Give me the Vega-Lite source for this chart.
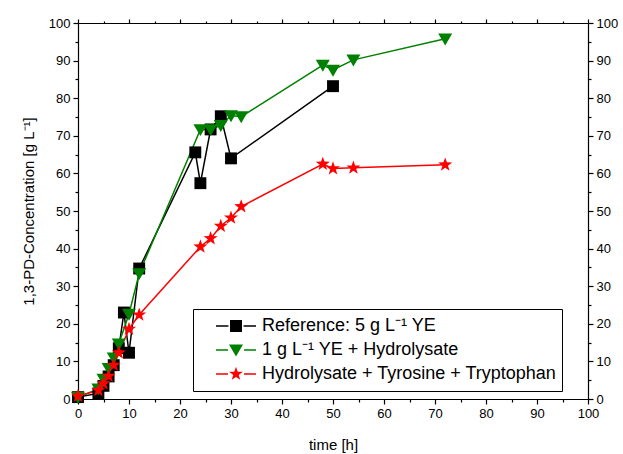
{
  "$schema": "https://vega.github.io/schema/vega-lite/v6.json",
  "width": 510,
  "height": 376,
  "autosize": {"type": "none"},
  "padding": {"left": 78, "top": 23, "right": 35, "bottom": 55},
  "background": "white",
  "config": {
    "font": "Liberation Sans",
    "view": {"stroke": null},
    "axis": {"grid": false, "domainColor": "black", "tickColor": "black", "labelColor": "black", "titleColor": "black", "labelFontSize": 13, "titleFontSize": 15, "titleFontWeight": "normal", "domainWidth": 1.2, "tickWidth": 1.2}
  },
  "data": {
    "values": [
      {"series": "Reference: 5 g L⁻¹ YE", "time": 0, "conc": 0.5},
      {"series": "Reference: 5 g L⁻¹ YE", "time": 4, "conc": 1.5},
      {"series": "Reference: 5 g L⁻¹ YE", "time": 5, "conc": 3.5},
      {"series": "Reference: 5 g L⁻¹ YE", "time": 6, "conc": 6},
      {"series": "Reference: 5 g L⁻¹ YE", "time": 7, "conc": 9},
      {"series": "Reference: 5 g L⁻¹ YE", "time": 8, "conc": 13.5},
      {"series": "Reference: 5 g L⁻¹ YE", "time": 9, "conc": 23},
      {"series": "Reference: 5 g L⁻¹ YE", "time": 10, "conc": 12.3},
      {"series": "Reference: 5 g L⁻¹ YE", "time": 12, "conc": 34.7},
      {"series": "Reference: 5 g L⁻¹ YE", "time": 23, "conc": 65.6},
      {"series": "Reference: 5 g L⁻¹ YE", "time": 24, "conc": 57.4},
      {"series": "Reference: 5 g L⁻¹ YE", "time": 26, "conc": 71.7},
      {"series": "Reference: 5 g L⁻¹ YE", "time": 28, "conc": 75.2},
      {"series": "Reference: 5 g L⁻¹ YE", "time": 30, "conc": 64},
      {"series": "Reference: 5 g L⁻¹ YE", "time": 50, "conc": 83.2},
      {"series": "1 g L⁻¹ YE + Hydrolysate", "time": 0, "conc": 0.5},
      {"series": "1 g L⁻¹ YE + Hydrolysate", "time": 4, "conc": 2.7},
      {"series": "1 g L⁻¹ YE + Hydrolysate", "time": 5, "conc": 5.3},
      {"series": "1 g L⁻¹ YE + Hydrolysate", "time": 6, "conc": 8.2},
      {"series": "1 g L⁻¹ YE + Hydrolysate", "time": 7, "conc": 11},
      {"series": "1 g L⁻¹ YE + Hydrolysate", "time": 8, "conc": 14.7},
      {"series": "1 g L⁻¹ YE + Hydrolysate", "time": 10, "conc": 22.6},
      {"series": "1 g L⁻¹ YE + Hydrolysate", "time": 12, "conc": 33.4},
      {"series": "1 g L⁻¹ YE + Hydrolysate", "time": 24, "conc": 71.7},
      {"series": "1 g L⁻¹ YE + Hydrolysate", "time": 26, "conc": 71.7},
      {"series": "1 g L⁻¹ YE + Hydrolysate", "time": 28, "conc": 72.8},
      {"series": "1 g L⁻¹ YE + Hydrolysate", "time": 30, "conc": 75.4},
      {"series": "1 g L⁻¹ YE + Hydrolysate", "time": 32, "conc": 75.1},
      {"series": "1 g L⁻¹ YE + Hydrolysate", "time": 48, "conc": 88.8},
      {"series": "1 g L⁻¹ YE + Hydrolysate", "time": 50, "conc": 87.5},
      {"series": "1 g L⁻¹ YE + Hydrolysate", "time": 54, "conc": 90.2},
      {"series": "1 g L⁻¹ YE + Hydrolysate", "time": 72, "conc": 95.8},
      {"series": "Hydrolysate + Tyrosine + Tryptophan", "time": 0, "conc": 0.8},
      {"series": "Hydrolysate + Tyrosine + Tryptophan", "time": 4, "conc": 2.3},
      {"series": "Hydrolysate + Tyrosine + Tryptophan", "time": 5, "conc": 4.1},
      {"series": "Hydrolysate + Tyrosine + Tryptophan", "time": 6, "conc": 6.1},
      {"series": "Hydrolysate + Tyrosine + Tryptophan", "time": 7, "conc": 9},
      {"series": "Hydrolysate + Tyrosine + Tryptophan", "time": 8, "conc": 12.3},
      {"series": "Hydrolysate + Tyrosine + Tryptophan", "time": 10, "conc": 18.6},
      {"series": "Hydrolysate + Tyrosine + Tryptophan", "time": 12, "conc": 22.4},
      {"series": "Hydrolysate + Tyrosine + Tryptophan", "time": 24, "conc": 40.5},
      {"series": "Hydrolysate + Tyrosine + Tryptophan", "time": 26, "conc": 42.7},
      {"series": "Hydrolysate + Tyrosine + Tryptophan", "time": 28, "conc": 46},
      {"series": "Hydrolysate + Tyrosine + Tryptophan", "time": 30, "conc": 48.2},
      {"series": "Hydrolysate + Tyrosine + Tryptophan", "time": 32, "conc": 51.2},
      {"series": "Hydrolysate + Tyrosine + Tryptophan", "time": 48, "conc": 62.5},
      {"series": "Hydrolysate + Tyrosine + Tryptophan", "time": 50, "conc": 61.3},
      {"series": "Hydrolysate + Tyrosine + Tryptophan", "time": 54, "conc": 61.5},
      {"series": "Hydrolysate + Tyrosine + Tryptophan", "time": 72, "conc": 62.3}
    ]
  },
  "layer": [
    {
      "encoding": {
        "x": {
          "field": "time", "type": "quantitative",
          "scale": {"domain": [0, 100], "nice": false, "zero": false},
          "axis": {
            "orient": "bottom", "title": "time [h]", "titlePadding": 17,
            "values": [0,5,10,15,20,25,30,35,40,45,50,55,60,65,70,75,80,85,90,95,100],
            "labelExpr": "datum.value % 10 == 0 ? datum.label : ''",
            "tickSize": {"condition": {"test": "datum.value % 10 == 0", "value": 5}, "value": 3},
            "labelPadding": 3, "labelFlush": false, "labelOverlap": false
          }
        },
        "y": {
          "field": "conc", "type": "quantitative",
          "scale": {"domain": [0, 100], "nice": false},
          "axis": {
            "orient": "left", "title": "1,3-PD-Concentration [g L⁻¹]", "titlePadding": 12,
            "values": [0,5,10,15,20,25,30,35,40,45,50,55,60,65,70,75,80,85,90,95,100],
            "labelExpr": "datum.value % 10 == 0 ? datum.label : ''",
            "tickSize": {"condition": {"test": "datum.value % 10 == 0", "value": 5}, "value": 3},
            "labelPadding": 3, "labelFlush": false, "labelOverlap": false
          }
        },
        "color": {
          "field": "series", "type": "nominal",
          "scale": {"domain": ["Reference: 5 g L⁻¹ YE", "1 g L⁻¹ YE + Hydrolysate", "Hydrolysate + Tyrosine + Tryptophan"], "range": ["#000000", "#008000", "#ff0000"]},
          "legend": {
            "title": null, "orient": "none", "legendX": 115, "legendY": 286,
            "labelFontSize": 18, "labelColor": "black", "labelLimit": 400,
            "symbolSize": 1600, "symbolOffset": 18, "labelOffset": 6,
            "padding": 5, "rowPadding": 0, "clipHeight": 24,
            "strokeColor": "black", "fillColor": "white",
            "encode": {
              "symbols": {
                "update": {
                  "shape": {"signal": "indexof(datum.value, 'Reference') == 0 ? 'M-1,-0.04H-0.38V0.04H-1Z M0.38,-0.04H1V0.04H0.38Z M-0.3,-0.3H0.3V0.3H-0.3Z' : indexof(datum.value, '1 g') == 0 ? 'M-1,-0.04H-0.4V0.04H-1Z M0.4,-0.04H1V0.04H0.4Z M-0.35,-0.28H0.35L0,0.32Z' : 'M-1,-0.04H-0.4V0.04H-1Z M0.4,-0.04H1V0.04H0.4Z M0,-0.36L0.085,-0.117L0.342,-0.111L0.137,0.045L0.212,0.291L0,0.144L-0.212,0.291L-0.137,0.045L-0.342,-0.111L-0.085,-0.117Z'"},
                  "fill": {"signal": "indexof(datum.value, 'Reference') == 0 ? '#000000' : indexof(datum.value, '1 g') == 0 ? '#008000' : '#ff0000'"},
                  "stroke": {"value": "transparent"},
                  "strokeWidth": {"value": 0},
                  "opacity": {"value": 1},
                  "fillOpacity": {"value": 1}
                }
              }
            }
          }
        }
      },
      "layer": [
        {"mark": {"type": "line", "strokeWidth": 1.5}, "encoding": {"order": {"field": "time", "type": "quantitative"}}},
        {
          "transform": [{"filter": "datum.series == 'Reference: 5 g L⁻¹ YE'"}],
          "mark": {"type": "point", "filled": true, "size": 196, "opacity": 1, "strokeWidth": 0, "shape": "M-0.85,-0.85H0.85V0.85H-0.85Z"}
        },
        {
          "transform": [{"filter": "datum.series == '1 g L⁻¹ YE + Hydrolysate'"}],
          "mark": {"type": "point", "filled": true, "size": 196, "opacity": 1, "strokeWidth": 0, "shape": "M-1,-0.75H1L0,0.95Z"}
        },
        {
          "transform": [{"filter": "datum.series == 'Hydrolysate + Tyrosine + Tryptophan'"}],
          "mark": {"type": "point", "filled": true, "size": 196, "opacity": 1, "strokeWidth": 0, "shape": "M0,-1.05L0.247,-0.34L1,-0.325L0.4,0.13L0.617,0.85L0,0.42L-0.617,0.85L-0.4,0.13L-1,-0.325L-0.247,-0.34Z"}
        }
      ]
    },
    {
      "mark": {"type": "point", "opacity": 0},
      "encoding": {
        "x": {
          "field": "time", "type": "quantitative",
          "scale": {"domain": [0, 100], "nice": false, "zero": false},
          "axis": {
            "orient": "top", "title": null, "labels": false,
            "values": [0,5,10,15,20,25,30,35,40,45,50,55,60,65,70,75,80,85,90,95,100],
            "tickSize": {"condition": {"test": "datum.value % 10 == 0", "value": 4}, "value": 2}
          }
        },
        "y": {
          "field": "conc", "type": "quantitative",
          "scale": {"domain": [0, 100], "nice": false},
          "axis": {
            "orient": "right", "title": null,
            "values": [0,5,10,15,20,25,30,35,40,45,50,55,60,65,70,75,80,85,90,95,100],
            "labelExpr": "datum.value % 10 == 0 ? datum.label : ''",
            "tickSize": {"condition": {"test": "datum.value % 10 == 0", "value": 5}, "value": 3},
            "labelPadding": 3, "labelFlush": false, "labelOverlap": false
          }
        }
      }
    }
  ],
  "resolve": {"scale": {"x": "independent", "y": "independent"}}
}
